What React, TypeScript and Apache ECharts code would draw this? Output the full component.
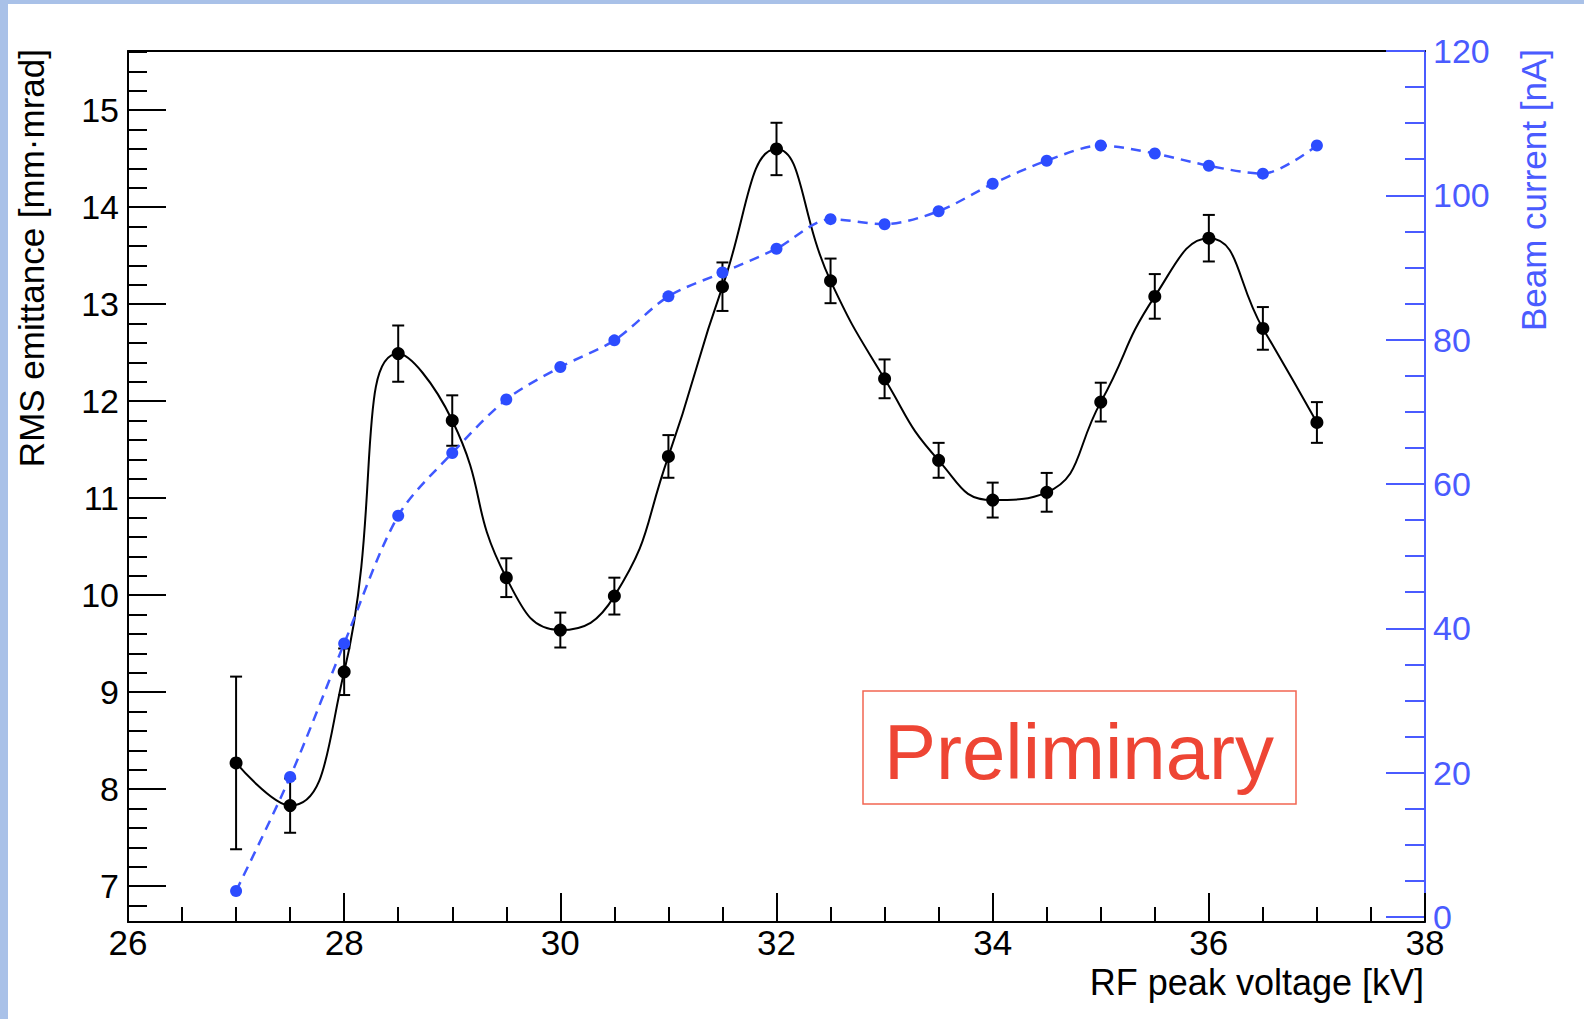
import React, { useEffect, useRef } from "react";
import * as echarts from "echarts";

// ---- data ----
const voltage = [27, 27.5, 28, 28.5, 29, 29.5, 30, 30.5, 31, 31.5, 32, 32.5, 33, 33.5, 34, 34.5, 35, 35.5, 36, 36.5, 37];
const emittance = [8.27, 7.83, 9.21, 12.49, 11.8, 10.18, 9.64, 9.99, 11.43, 13.18, 14.6, 13.24, 12.23, 11.39, 10.98, 11.06, 11.99, 13.08, 13.68, 12.75, 11.78];
const emittanceErr = [0.89, 0.28, 0.24, 0.29, 0.26, 0.2, 0.18, 0.19, 0.22, 0.25, 0.27, 0.23, 0.2, 0.18, 0.18, 0.2, 0.2, 0.23, 0.24, 0.22, 0.21];
const beamCurrent = [3.6, 19.4, 37.9, 55.6, 64.3, 71.7, 76.2, 79.9, 86.0, 89.3, 92.6, 96.7, 96.0, 97.8, 101.6, 104.8, 106.9, 105.8, 104.1, 103.0, 106.9];

const leftMajorTicks = [7, 8, 9, 10, 11, 12, 13, 14, 15];
const leftMinorTicks = [6.8, 7.2, 7.4, 7.6, 7.8, 8.2, 8.4, 8.6, 8.8, 9.2, 9.4, 9.6, 9.8, 10.2, 10.4, 10.6, 10.8, 11.2, 11.4, 11.6, 11.8, 12.2, 12.4, 12.6, 12.8, 13.2, 13.4, 13.6, 13.8, 14.2, 14.4, 14.6, 14.8, 15.2, 15.4, 15.6];
const rightMajorTicks = [0, 20, 40, 60, 80, 100, 120];
const rightMinorTicks = [5, 10, 15, 25, 30, 35, 45, 50, 55, 65, 70, 75, 85, 90, 95, 105, 110, 115];

const FONT = "'Liberation Sans', Arial, Helvetica, sans-serif";
const BLUE_AXIS = "#4a5bff";
const BLUE_DOT = "#2c4cff";
const BLUE_LINE = "#3f58ff";

export default function App() {
  const ref = useRef<HTMLDivElement>(null);

  useEffect(() => {
    if (!ref.current) return;
    const chart = echarts.init(ref.current, null, { renderer: "svg" });

    const emitPoints = voltage.map((v, i) => [v, emittance[i]]);
    const errData = voltage.map((v, i) => [v, emittance[i] - emittanceErr[i], emittance[i] + emittanceErr[i]]);
    const beamPoints = voltage.map((v, i) => [v, beamCurrent[i]]);

    const yMinL = 6.63, yMaxL = 15.61;
    const yMinR = -0.7, yMaxR = 120;

    chart.setOption({
      animation: false,
      backgroundColor: "#ffffff",
      grid: { left: 128, right: 159, top: 51, bottom: 97, containLabel: false },
      xAxis: [
        {
          type: "value",
          position: "bottom",
          min: 26,
          max: 38,
          interval: 2,
          axisLine: { show: true, onZero: false, lineStyle: { color: "#000", width: 2 } },
          axisTick: { show: true, inside: true, length: 29, lineStyle: { color: "#000", width: 2 } },
          minorTick: { show: true, splitNumber: 4, length: 15, lineStyle: { color: "#000", width: 2 } },
          axisLabel: { show: true, fontSize: 35, color: "#000", fontFamily: FONT, margin: 3 },
          splitLine: { show: false },
          minorSplitLine: { show: false },
        },
        {
          type: "value",
          position: "top",
          min: 26,
          max: 38,
          axisLine: { show: true, onZero: false, lineStyle: { color: "#000", width: 2 } },
          axisTick: { show: false },
          axisLabel: { show: false },
          splitLine: { show: false },
        },
      ],
      yAxis: [
        {
          type: "value",
          position: "left",
          min: yMinL,
          max: yMaxL,
          axisLine: { show: true, onZero: false, lineStyle: { color: "#000", width: 2 } },
          axisTick: { show: true, inside: true, length: 38, customValues: leftMajorTicks, lineStyle: { color: "#000", width: 2 } },
          axisLabel: { show: true, customValues: leftMajorTicks, fontSize: 34, color: "#000", fontFamily: FONT, margin: 9 },
          splitLine: { show: false },
        },
        {
          type: "value",
          position: "right",
          min: yMinR,
          max: yMaxR,
          axisLine: { show: true, onZero: false, lineStyle: { color: BLUE_AXIS, width: 2 } },
          axisTick: { show: true, inside: true, length: 39, customValues: rightMajorTicks, lineStyle: { color: BLUE_AXIS, width: 2 } },
          axisLabel: { show: true, customValues: rightMajorTicks, fontSize: 34, color: BLUE_AXIS, fontFamily: FONT, margin: 8 },
          splitLine: { show: false },
        },
        {
          type: "value",
          position: "left",
          min: yMinL,
          max: yMaxL,
          axisLine: { show: false, onZero: false },
          axisTick: { show: true, inside: true, length: 19, customValues: leftMinorTicks, lineStyle: { color: "#000", width: 2 } },
          axisLabel: { show: false },
          splitLine: { show: false },
        },
        {
          type: "value",
          position: "right",
          min: yMinR,
          max: yMaxR,
          axisLine: { show: false, onZero: false },
          axisTick: { show: true, inside: true, length: 20, customValues: rightMinorTicks, lineStyle: { color: BLUE_AXIS, width: 2 } },
          axisLabel: { show: false },
          splitLine: { show: false },
        },
      ],
      series: [
        {
          type: "custom",
          name: "errors",
          xAxisIndex: 0,
          yAxisIndex: 0,
          encode: { x: 0, y: [1, 2] },
          data: errData,
          z: 3,
          renderItem: (params: any, api: any) => {
            const x = api.value(0);
            const lo = api.coord([x, api.value(1)]);
            const hi = api.coord([x, api.value(2)]);
            const cap = 6;
            const st = { stroke: "#000", lineWidth: 2 };
            return {
              type: "group",
              children: [
                { type: "line", shape: { x1: lo[0], y1: lo[1], x2: hi[0], y2: hi[1] }, style: st },
                { type: "line", shape: { x1: lo[0] - cap, y1: lo[1], x2: lo[0] + cap, y2: lo[1] }, style: st },
                { type: "line", shape: { x1: hi[0] - cap, y1: hi[1], x2: hi[0] + cap, y2: hi[1] }, style: st },
              ],
            };
          },
        },
        {
          type: "line",
          name: "RMS emittance",
          xAxisIndex: 0,
          yAxisIndex: 0,
          data: emitPoints,
          smooth: 0.5,
          symbol: "circle",
          symbolSize: 13,
          itemStyle: { color: "#000" },
          lineStyle: { color: "#000", width: 2 },
          z: 4,
        },
        {
          type: "line",
          name: "Beam current",
          xAxisIndex: 0,
          yAxisIndex: 1,
          data: beamPoints,
          smooth: 0.3,
          symbol: "circle",
          symbolSize: 12,
          itemStyle: { color: BLUE_DOT },
          lineStyle: { color: BLUE_LINE, width: 2.5, type: [10, 7] },
          z: 5,
        },
      ],
      graphic: [
        { type: "rect", left: 0, top: 0, shape: { x: 0, y: 0, width: 8, height: 1019 }, style: { fill: "#a9c1e8" }, z: 10 },
        { type: "rect", left: 0, top: 0, shape: { x: 0, y: 0, width: 1584, height: 4 }, style: { fill: "#a9c1e8" }, z: 10 },
        {
          type: "text",
          x: 31,
          y: 49,
          rotation: Math.PI / 2,
          style: { text: "RMS emittance [mm·mrad]", fontSize: 35, fontFamily: FONT, fill: "#000", align: "right", verticalAlign: "middle" },
          z: 10,
        },
        {
          type: "text",
          x: 1533,
          y: 49,
          rotation: Math.PI / 2,
          style: { text: "Beam current [nA]", fontSize: 35, fontFamily: FONT, fill: BLUE_AXIS, align: "right", verticalAlign: "middle" },
          z: 10,
        },
        {
          type: "text",
          x: 1424,
          y: 982,
          style: { text: "RF peak voltage [kV]", fontSize: 36, fontFamily: FONT, fill: "#000", align: "right", verticalAlign: "middle" },
          z: 10,
        },
        {
          type: "rect",
          shape: { x: 863, y: 691, width: 433, height: 113 },
          style: { fill: "#ffffff", stroke: "#f26552", lineWidth: 1.5 },
          z: 10,
        },
        {
          type: "text",
          x: 1079,
          y: 752,
          style: { text: "Preliminary", fontSize: 78, fontFamily: FONT, fill: "#ee4534", align: "center", verticalAlign: "middle" },
          z: 11,
        },
      ],
    });

    return () => chart.dispose();
  }, []);

  return (
    <div style={{ position: "fixed", left: 0, top: 0, width: 1584, height: 1019, background: "#fff" }}>
      <div ref={ref} style={{ width: 1584, height: 1019 }} />
    </div>
  );
}
